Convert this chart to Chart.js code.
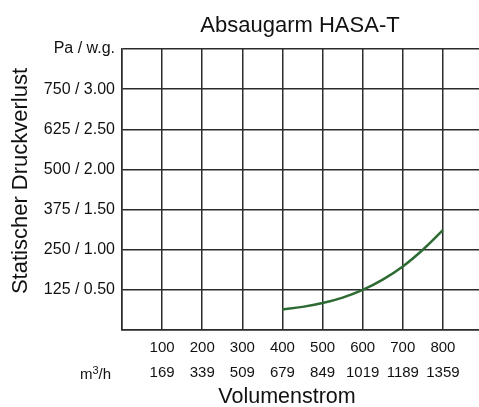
<!DOCTYPE html>
<html>
<head>
<meta charset="utf-8">
<script src="https://cdn.jsdelivr.net/npm/chart.js@4.4.1/dist/chart.umd.min.js"></script>
<style>
  body { margin: 0; background: #fff; }
</style>
</head>
<body>
<canvas id="hasaChart" width="479" height="407"></canvas>
<script>
// curve (flow in m3/h, pressure in Pa)
var flowM3h = [400, 450, 500, 550, 600, 650, 700, 750, 800];
var pressurePa = [64, 72, 84, 101, 125, 157, 198, 250, 311];

// axis tick labels
var xTicksM3h = [100, 200, 300, 400, 500, 600, 700, 800];
var xTicksOther = ['169', '339', '509', '679', '849', '1019', '1189', '1359'];
var yTickValues = [125, 250, 375, 500, 625, 750, 875];
var yTickLabels = ['125 / 0.50', '250 / 1.00', '375 / 1.50', '500 / 2.00', '625 / 2.50', '750 / 3.00', 'Pa / w.g.'];

var textColor = '#111';
var gridColor = '#2b2b2b';

var points = flowM3h.map(function(f, i) { return { x: f, y: pressurePa[i] }; });

// titles and the "m3/h" unit are drawn around the plot
var textPlugin = {
    id: 'outsideText',
    afterDraw: function(chart) {
        var ctx = chart.ctx;
        ctx.save();
        ctx.fillStyle = textColor;
        ctx.textBaseline = 'alphabetic';
        ctx.textAlign = 'center';
        ctx.font = '22px "Liberation Sans", Arial, sans-serif';
        ctx.fillText('Absaugarm HASA-T', 300, 32);
        ctx.font = '21.5px "Liberation Sans", Arial, sans-serif';
        ctx.fillText('Volumenstrom', 287, 403);

        ctx.save();
        ctx.translate(27, 181);
        ctx.rotate(-Math.PI / 2);
        ctx.font = '22px "Liberation Sans", Arial, sans-serif';
        ctx.fillText('Statischer Druckverlust', 0, 0);
        ctx.restore();

        // m3/h with raised 3
        ctx.textAlign = 'left';
        var x = 80;
        ctx.font = '15px "Liberation Sans", Arial, sans-serif';
        ctx.fillText('m', x, 379);
        x += ctx.measureText('m').width;
        ctx.font = '11px "Liberation Sans", Arial, sans-serif';
        ctx.fillText('3', x, 374);
        x += ctx.measureText('3').width;
        ctx.font = '15px "Liberation Sans", Arial, sans-serif';
        ctx.fillText('/h', x, 379);
        ctx.restore();
    }
};

var ctxHasa = document.getElementById('hasaChart').getContext('2d');
var hasaChart = new Chart(ctxHasa, {
    type: 'line',
    data: {
        datasets: [{
            data: points,
            borderColor: '#2e6b33',
            borderWidth: 2.5,
            pointRadius: 0,
            tension: 0.4,
            fill: false
        }]
    },
    options: {
        responsive: false,
        animation: false,
        layout: { padding: { top: 49, left: 0, right: 0, bottom: 0 } },
        plugins: {
            legend: { display: false },
            tooltip: { enabled: false }
        },
        scales: {
            x: {
                type: 'linear',
                min: 0,
                max: 890,
                afterFit: function(scale) { scale.height = 77; },
                afterBuildTicks: function(scale) {
                    scale.ticks = [0].concat(xTicksM3h).map(function(v) { return { value: v }; });
                },
                ticks: {
                    padding: 5,
                    color: textColor,
                    maxRotation: 0,
                    autoSkip: false,
                    font: { family: '"Liberation Sans", Arial, sans-serif', size: 15, lineHeight: '25px' },
                    callback: function(value) {
                        var i = xTicksM3h.indexOf(value);
                        return i < 0 ? '' : [String(xTicksM3h[i]), xTicksOther[i]];
                    }
                },
                grid: { drawTicks: false, lineWidth: 1.5, color: gridColor },
                border: { color: gridColor, width: 1.5 }
            },
            y: {
                min: 0,
                max: 875,
                afterFit: function(scale) { scale.width = 122; },
                afterBuildTicks: function(scale) {
                    scale.ticks = [0].concat(yTickValues).map(function(v) { return { value: v }; });
                },
                ticks: {
                    padding: 7,
                    color: textColor,
                    font: { family: '"Liberation Sans", Arial, sans-serif', size: 16 },
                    callback: function(value) {
                        var i = yTickValues.indexOf(value);
                        return i < 0 ? '' : yTickLabels[i];
                    }
                },
                grid: { drawTicks: false, lineWidth: 1.5, color: gridColor },
                border: { color: gridColor, width: 1.5 }
            }
        }
    },
    plugins: [textPlugin]
});
</script>
</body>
</html>
